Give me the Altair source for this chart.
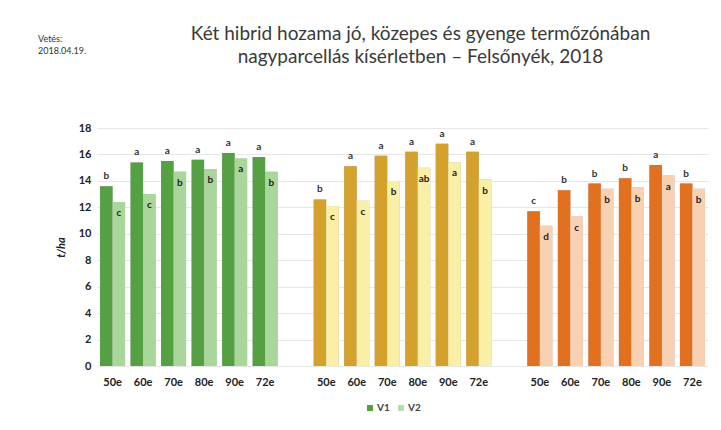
import altair as alt
import pandas as pd

hybrids = ["50e", "60e", "70e", "80e", "90e", "72e"]
zones = ["jó", "közepes", "gyenge"]
series = ["V1", "V2"]

v1_values = {
    "jó": [13.6, 15.4, 15.5, 15.6, 16.1, 15.8],
    "közepes": [12.6, 15.1, 15.9, 16.2, 16.8, 16.2],
    "gyenge": [11.7, 13.3, 13.8, 14.2, 15.2, 13.8],
}
v2_values = {
    "jó": [12.4, 13.0, 14.7, 14.9, 15.7, 14.7],
    "közepes": [12.1, 12.5, 14.0, 15.0, 15.4, 14.1],
    "gyenge": [10.6, 11.3, 13.4, 13.5, 14.4, 13.4],
}
v1_letters = {
    "jó": ["b", "a", "a", "a", "a", "a"],
    "közepes": ["b", "a", "a", "a", "a", "a"],
    "gyenge": ["c", "b", "b", "b", "a", "b"],
}
v2_letters = {
    "jó": ["c", "c", "b", "b", "a", "b"],
    "közepes": ["c", "c", "b", "ab", "a", "b"],
    "gyenge": ["d", "c", "b", "b", "a", "b"],
}
bar_colors = {
    "jó|V1": "#55a043", "jó|V2": "#a9d79b",
    "közepes|V1": "#d4a12c", "közepes|V2": "#f9efa6",
    "gyenge|V1": "#e2711f", "gyenge|V2": "#f8d1b3",
}
legend_colors = ["#55a043", "#b9dcae"]
note_lines = ["Vetés:", "2018.04.19."]

rows = []
for z in zones:
    for i, h in enumerate(hybrids):
        rows.append({"key": f"{z}|{h}", "zone": z, "hybrid": h, "series": "V1",
                     "value": v1_values[z][i], "letter": v1_letters[z][i], "col": f"{z}|V1"})
        rows.append({"key": f"{z}|{h}", "zone": z, "hybrid": h, "series": "V2",
                     "value": v2_values[z][i], "letter": v2_letters[z][i], "col": f"{z}|V2"})
df = pd.DataFrame(rows)

domain = []
for zi, z in enumerate(zones):
    domain += [f"{z}|{h}" for h in hybrids]
    if zi < len(zones) - 1:
        domain.append(f"gap{zi}")

x_enc = alt.X("key:N", scale=alt.Scale(domain=domain, paddingInner=0.18, paddingOuter=0.1),
              axis=alt.Axis(title=None, labelAngle=0, ticks=False, domain=False,
                            labelFont="Lato", labelFontWeight="bold", labelFontSize=11,
                            labelColor="#222222", labelPadding=10,
                            labelExpr="length(split(datum.label,'|')) > 1 ? split(datum.label,'|')[1] : ''"))
y_enc = alt.Y("value:Q", scale=alt.Scale(domain=[0, 18], nice=False),
              axis=alt.Axis(title="t/ha", values=list(range(0, 19, 2)), ticks=False, domain=False,
                            grid=True, gridColor="#e6e6e6", labelFont="Lato", labelFontWeight="bold",
                            labelFontSize=11, labelColor="#222222", labelPadding=6,
                            titleFont="Lato", titleFontStyle="italic", titleFontWeight="bold",
                            titleFontSize=11, titleColor="#222222", titlePadding=12))
xo = alt.XOffset("series:N", scale=alt.Scale(domain=series))

base = alt.Chart(df)

shadow = base.mark_bar(color="#aeabbd", xOffset=2).encode(x=x_enc, y=y_enc, xOffset=xo)

bars = base.mark_bar().encode(
    x=x_enc, y=y_enc, xOffset=xo,
    color=alt.Color("col:N", scale=alt.Scale(domain=list(bar_colors.keys()),
                                             range=list(bar_colors.values())), legend=None),
)

legend_layer = base.mark_bar().encode(
    x=x_enc, y=y_enc, xOffset=xo,
    fill=alt.Fill("series:N", scale=alt.Scale(domain=series, range=legend_colors),
                  legend=alt.Legend(title=None, orient="none", legendX=268, legendY=275,
                                    direction="horizontal", symbolType="square", symbolSize=36,
                                    symbolStrokeWidth=0, labelFont="Lato", labelFontSize=10,
                                    labelFontWeight="bold", labelColor="#444444",
                                    columnPadding=6, labelOffset=2)),
).transform_filter("false")

txt_v1 = base.transform_filter("datum.series == 'V1'").mark_text(
    font="Lato", fontWeight="bold", fontSize=10, color="#333333", baseline="bottom", dy=-5
).encode(x=x_enc, y=y_enc, xOffset=xo, text="letter:N")

txt_v2 = base.transform_filter("datum.series == 'V2'").mark_text(
    font="Lato", fontWeight="bold", fontSize=10, color="#222222", baseline="top", dy=6
).encode(x=x_enc, y=y_enc, xOffset=xo, text="letter:N")

note_df = pd.DataFrame({"t": ["\n".join(note_lines)]})
note = alt.Chart(note_df).mark_text(
    font="Lato", fontSize=9, color="#333333", align="left", baseline="top", lineBreak="\n",
    lineHeight=12
).encode(x=alt.value(-59), y=alt.value(-93), text="t:N")

chart = alt.layer(shadow, bars, legend_layer, txt_v1, txt_v2, note).resolve_scale(
    fill="independent", color="independent"
).properties(
    width=611, height=238,
    padding={"left": 30, "top": 17, "right": 5, "bottom": 5},
    background="#ffffff",
    title=alt.TitleParams(
        text=["Két hibrid hozama jó, közepes és gyenge termőzónában",
              "nagyparcellás kísérletben – Felsőnyék, 2018"],
        font="Lato", fontSize=19, fontWeight="normal", color="#3a3a3a",
        anchor="middle", dx=18, offset=-32, lineHeight=23),
).configure_view(stroke=None)

chart.save("out.html", embed_options={"renderer": "svg", "actions": False})
